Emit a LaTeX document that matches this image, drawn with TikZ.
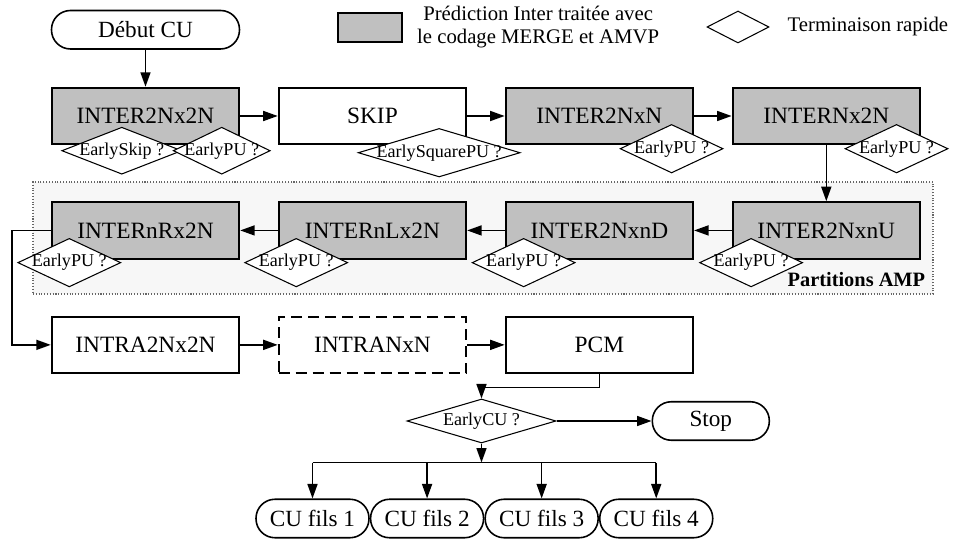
\documentclass[tikz,border=0pt]{standalone}
\usepackage{fontspec}
\setmainfont{Liberation Serif}
\usetikzlibrary{positioning,arrows.meta,calc,shapes.geometric}

\definecolor{intergrey}{HTML}{C0C0C0}
\definecolor{ampgrey}{HTML}{F7F7F7}

\begin{document}
\begin{tikzpicture}[
    node distance=1.12cm and 0.75cm,
    mode/.style={draw, line width=1.1pt, fill=white, minimum width=3.75cm, minimum height=1.13cm, font=\fontsize{13.3}{16}\selectfont},
    inter/.style={mode, fill=intergrey},
    terminal/.style={draw, line width=0.9pt, fill=white, rounded corners=0.38cm, minimum height=0.77cm, font=\fontsize{13.2}{16}\selectfont},
    early/.style={diamond, draw, line width=0.6pt, fill=white, inner sep=0pt, aspect=1, minimum width=2.06cm, minimum height=0.97cm, font=\fontsize{10.3}{12}\selectfont, execute at begin node={\hbox to 0pt\bgroup\hss}, execute at end node={\hss\egroup}},
    ampframe/.style={draw=black!60, densely dotted, line width=0.6pt, fill=ampgrey},
    arrow/.style={-{Triangle[length=0.29cm, width=0.2cm]}, line width=0.9pt}
]
\useasboundingbox (0,0) rectangle (19.08,-10.78);

% legend
\node[inter, minimum width=1.28cm, minimum height=0.58cm] (leggrey) at (7.4,-0.55) {};
\node[right=0.16cm of leggrey, align=center, font=\fontsize{11.8}{13.1}\selectfont] (legtext) {Prédiction Inter traitée avec\\le codage MERGE et AMVP};
\node[early, minimum width=1.24cm, minimum height=0.64cm] (legearly) at (14.76,-0.54) {};
\node[right=0.24cm of legearly, font=\fontsize{11.8}{14}\selectfont] (legrapide) {Terminaison rapide};

% AMP partitions
\node[ampframe, minimum width=18cm, minimum height=2.24cm] (amp) at (9.66,-4.76) {};
\node[anchor=south east, inner xsep=0.16cm, inner ysep=0.14cm, font=\bfseries\fontsize{11.6}{14}\selectfont] (amplabel) at (amp.south east) {Partitions AMP};

% modes
\node[inter] (inter2n2n) at (2.91,-2.32) {INTER2Nx2N};
\node[terminal, minimum width=3.76cm, above=0.74cm of inter2n2n] (debut) {Début CU};
\node[mode, right=of inter2n2n] (skip) {SKIP};
\node[inter, right=of skip] (inter2nn) {INTER2NxN};
\node[inter, right=of inter2nn] (internx2n) {INTERNx2N};
\node[inter, below=of internx2n] (inter2nnu) {INTER2NxnU};
\node[inter, left=of inter2nnu] (inter2nnd) {INTER2NxnD};
\node[inter, left=of inter2nnd] (internlx2n) {INTERnLx2N};
\node[inter, left=of internlx2n] (internrx2n) {INTERnRx2N};
\node[mode, below=of internrx2n] (intra2n2n) {INTRA2Nx2N};
\node[mode, dash pattern=on 0.22cm off 0.12cm, right=of intra2n2n] (intranxn) {INTRANxN};
\node[mode, right=of intranxn] (pcm) {PCM};

% early termination tests
\node[early, minimum width=2.4cm, minimum height=0.94cm] (earlyskip) at ($(inter2n2n.south west)+(1.42,-0.11)$) {EarlySkip ?};
\node[early, minimum width=1.94cm, minimum height=0.94cm] (earlypua) at ($(inter2n2n.south east)+(-0.37,-0.11)$) {EarlyPU ?};
\node[early, minimum width=3.24cm] (earlysquare) at ($(skip.south east)+(-0.56,-0.15)$) {EarlySquarePU ?};
\node[early] (earlypub) at ($(inter2nn.south east)+(-0.45,-0.07)$) {EarlyPU ?};
\node[early] (earlypuc) at ($(internx2n.south east)+(-0.49,-0.07)$) {EarlyPU ?};
\node[early] (earlypud) at ($(inter2nnu.south west)+(0.39,-0.06)$) {EarlyPU ?};
\node[early] (earlypue) at ($(inter2nnd.south west)+(0.38,-0.06)$) {EarlyPU ?};
\node[early] (earlypuf) at ($(internlx2n.south west)+(0.37,-0.06)$) {EarlyPU ?};
\node[early] (earlypug) at ($(internrx2n.south west)+(0.37,-0.06)$) {EarlyPU ?};

% end of CU
\node[early, minimum width=2.98cm, minimum height=0.88cm] (earlycu) at (9.63,-8.42) {EarlyCU ?};
\node[terminal, minimum width=2.34cm, right=1.9cm of earlycu] (stop) {Stop};
\node[terminal, minimum width=2.26cm] (fils1) at (6.25,-10.37) {CU fils 1};
\node[terminal, minimum width=2.26cm, right=0cm of fils1] (fils2) {CU fils 2};
\node[terminal, minimum width=2.26cm, right=0cm of fils2] (fils3) {CU fils 3};
\node[terminal, minimum width=2.26cm, right=0cm of fils3] (fils4) {CU fils 4};
\coordinate (bus) at ($(earlycu.south)+(0,-0.38)$);

\draw[arrow] (debut) -- (inter2n2n);
\draw[arrow] (inter2n2n) -- (skip);
\draw[arrow] (skip) -- (inter2nn);
\draw[arrow] (inter2nn) -- (internx2n);
\draw[arrow] (internx2n) -- (inter2nnu);
\draw[arrow] (inter2nnu) -- (inter2nnd);
\draw[arrow] (inter2nnd) -- (internlx2n);
\draw[arrow] (internlx2n) -- (internrx2n);
\draw[arrow] (internrx2n.west) -- ++(-0.78,0) |- (intra2n2n.west);
\draw[arrow] (intra2n2n) -- (intranxn);
\draw[arrow] (intranxn) -- (pcm);
\draw[arrow] (pcm.south) -- ++(0,-0.27) -| (earlycu.north);
\draw[arrow] (earlycu) -- (stop);
\draw[arrow] (earlycu.south) -- (bus);
\draw[line width=0.9pt] (fils1.north |- bus) -- (fils4.north |- bus);
\draw[arrow] (fils1.north |- bus) -- (fils1.north);
\draw[arrow] (fils2.north |- bus) -- (fils2.north);
\draw[arrow] (fils3.north |- bus) -- (fils3.north);
\draw[arrow] (fils4.north |- bus) -- (fils4.north);
\end{tikzpicture}
\end{document}
